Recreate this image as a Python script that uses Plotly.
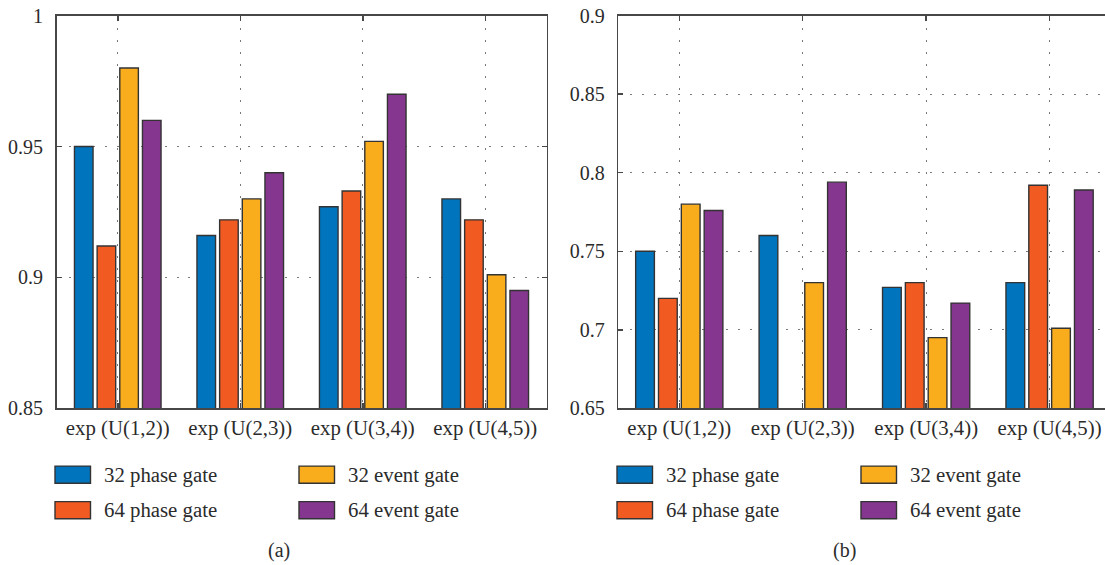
import plotly.graph_objects as go

# ---------------- data ----------------
categories = ["exp (U(1,2))", "exp (U(2,3))", "exp (U(3,4))", "exp (U(4,5))"]
series_names = ["32 phase gate", "64 phase gate", "32 event gate", "64 event gate"]
series_colors = ["#0075BE", "#F15B22", "#F9AD1D", "#85378F"]

a_32_phase = [0.950, 0.916, 0.927, 0.930]
a_64_phase = [0.912, 0.922, 0.933, 0.922]
a_32_event = [0.980, 0.930, 0.952, 0.901]
a_64_event = [0.960, 0.940, 0.970, 0.895]

b_32_phase = [0.750, 0.760, 0.727, 0.730]
b_64_phase = [0.720, None, 0.730, 0.792]
b_32_event = [0.780, 0.730, 0.695, 0.701]
b_64_event = [0.776, 0.794, 0.717, 0.789]

a_yticks = [0.85, 0.90, 0.95, 1.0]
a_yticklabels = ["0.85", "0.9", "0.95", "1"]
b_yticks = [0.65, 0.70, 0.75, 0.80, 0.85, 0.90]
b_yticklabels = ["0.65", "0.7", "0.75", "0.8", "0.85", "0.9"]

panel_labels = ["(a)", "(b)"]

# ---------------- layout helpers ----------------
W, H = 1105, 565
FONT = "Liberation Serif"
TXT = "#2b2b2b"
AX = "#474747"


def px(x):
    return x / W


def py(y):
    return 1 - y / H


fig = go.Figure()

a_series = [a_32_phase, a_64_phase, a_32_event, a_64_event]
b_series = [b_32_phase, b_64_phase, b_32_event, b_64_event]

for name, col, vals in zip(series_names, series_colors, a_series):
    fig.add_trace(go.Bar(
        x=categories, y=vals, name=name, marker_color=col,
        marker_line=dict(color="#333333", width=1.4),
        xaxis="x", yaxis="y", showlegend=False, offsetgroup=name))
for name, col, vals in zip(series_names, series_colors, b_series):
    fig.add_trace(go.Bar(
        x=categories, y=vals, name=name, marker_color=col,
        marker_line=dict(color="#333333", width=1.4),
        xaxis="x2", yaxis="y2", showlegend=False, offsetgroup=name))

top, bottom = 15.7, 408.3
ydom = [py(bottom), py(top)]

common_x = dict(
    type="category", showline=True, linecolor=AX, linewidth=1.5,
    ticks="inside", ticklen=5, tickcolor=AX, tickwidth=1.5,
    showgrid=True, gridcolor="#7a7a7a", gridwidth=1.2, griddash="2px,10px",
    tickfont=dict(family=FONT, size=20.8, color=TXT), zeroline=False,
    automargin=False, ticklabelstandoff=0, fixedrange=True,
)
common_y = dict(
    showline=True, linecolor=AX, linewidth=1.5,
    ticks="inside", ticklen=5, tickcolor=AX, tickwidth=1.5,
    showgrid=True, gridcolor="#7a7a7a", gridwidth=1.2, griddash="2px,10px",
    tickfont=dict(family=FONT, size=20, color=TXT), zeroline=False,
    automargin=False, ticklabelstandoff=8, fixedrange=True,
)

fig.update_layout(
    width=W, height=H,
    margin=dict(l=0, r=0, t=0, b=0),
    paper_bgcolor="white", plot_bgcolor="white",
    barmode="group", bargap=0.26, bargroupgap=0.18,
    showlegend=False,
    xaxis=dict(common_x, domain=[px(56.5), px(546.5)], range=[-0.5, 3.5],
               mirror="ticks", anchor="y"),
    yaxis=dict(common_y, domain=ydom, range=[0.85, 1.0], tickvals=a_yticks,
               ticktext=a_yticklabels, mirror="ticks", anchor="x"),
    xaxis2=dict(common_x, domain=[px(618.3), 1.0], range=[-0.494, 3.449],
                mirror="ticks", anchor="y2"),
    yaxis2=dict(common_y, domain=ydom, range=[0.65, 0.9], tickvals=b_yticks,
                ticktext=b_yticklabels, mirror=False, anchor="x2"),
)

# ---------------- legends (drawn below each panel) ----------------
legend_slots = [(0, 0), (0, 1), (1, 0), (1, 1)]  # (column, row) for each series
shapes = []
annotations = []
for left in [55, 617]:
    for (c, r), name, col in zip(legend_slots, series_names, series_colors):
        x0 = left + c * 244
        yc = (474.7, 510.2)[r]
        shapes.append(dict(type="rect", xref="paper", yref="paper",
                           x0=px(x0), x1=px(x0 + 35.5), y0=py(yc + 8.6), y1=py(yc - 8.6),
                           fillcolor=col, line=dict(color="#333333", width=1.4)))
        annotations.append(dict(x=px(x0 + 47), y=py(yc), xref="paper", yref="paper",
                                text=name, showarrow=False, xanchor="left", yanchor="middle",
                                font=dict(family=FONT, size=20.8, color=TXT)))

for lab, xc in zip(panel_labels, [279, 845]):
    annotations.append(dict(x=px(xc), y=py(550), xref="paper", yref="paper",
                            text=lab, showarrow=False, xanchor="center", yanchor="middle",
                            font=dict(family=FONT, size=20, color=TXT)))

fig.update_layout(shapes=shapes, annotations=annotations)

fig.write_html("out.html",
               config={"displayModeBar": False, "staticPlot": True},
               post_script="document.body.style.margin='0';document.body.style.overflow='hidden';")
